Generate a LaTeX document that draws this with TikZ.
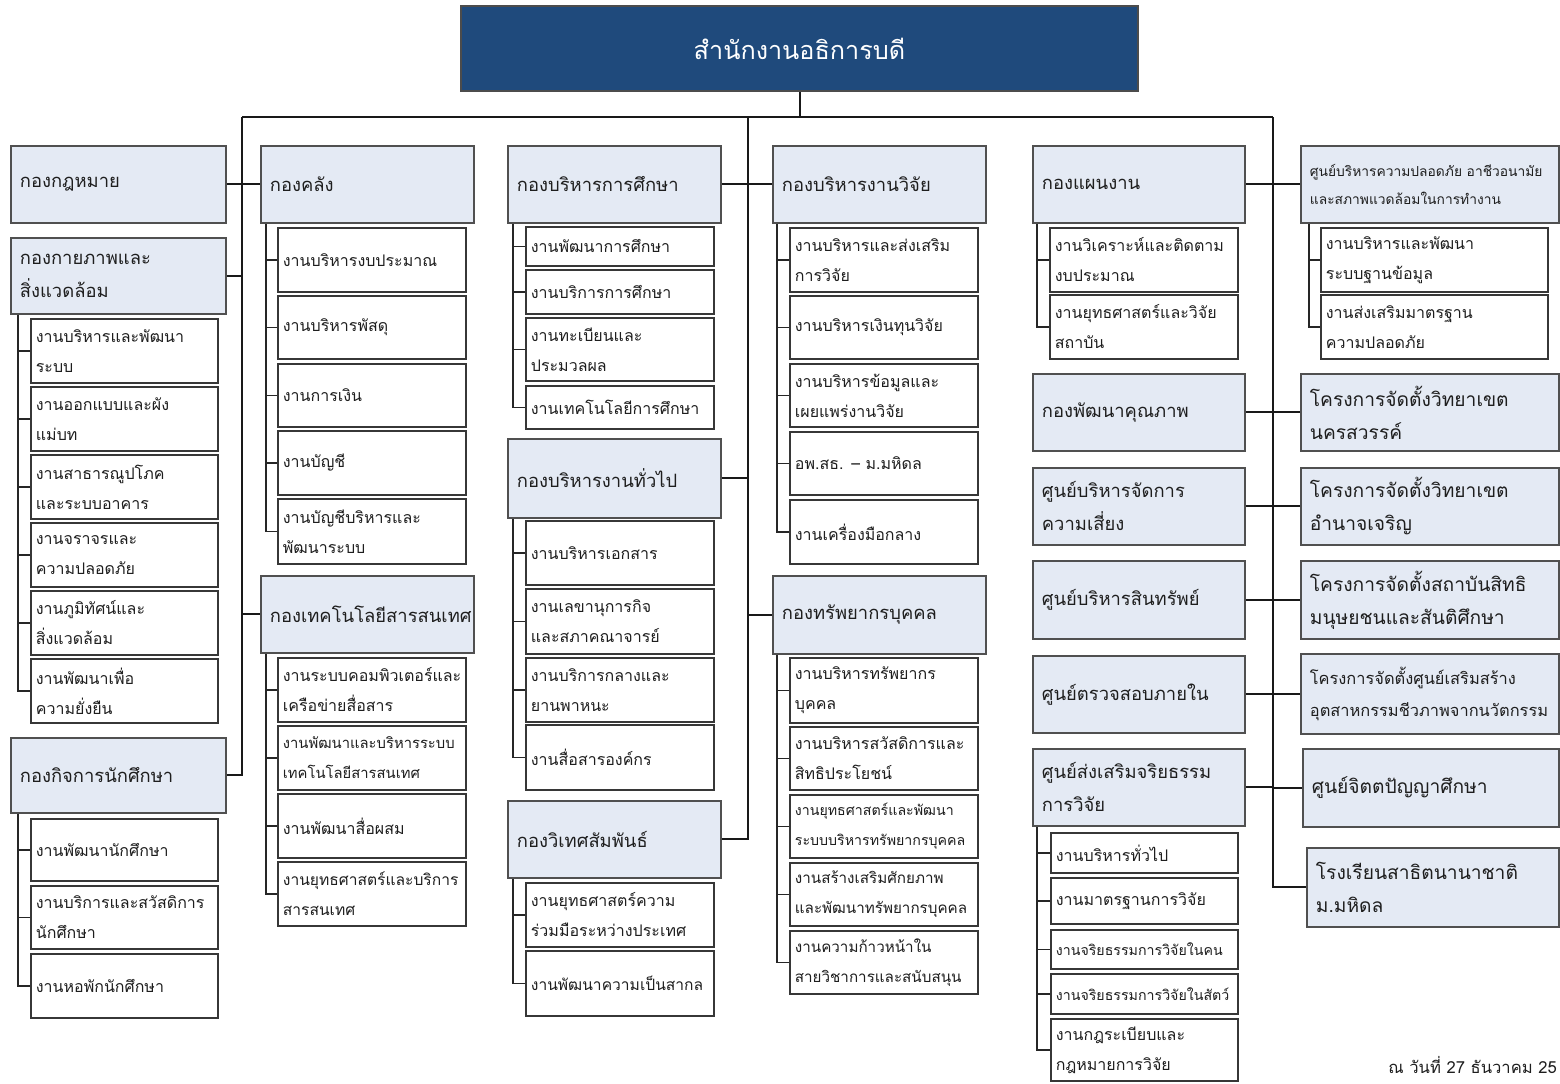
\documentclass[tikz,border=0pt]{standalone}
\usepackage{fontspec}
\setmainfont[Script=Thai]{Loma}
\definecolor{topblue}{RGB}{31,74,124}
\definecolor{divfill}{RGB}{228,234,244}
\definecolor{divborder}{RGB}{80,80,80}
\definecolor{subborder}{RGB}{55,55,55}
\definecolor{textc}{RGB}{30,30,30}
\def\boxpad{4pt}
\newcommand{\orgbox}[7]{%
  \pgfmathsetmacro\obw{(#5-#3)*0.5}%
  \pgfmathsetmacro\obh{(#6-#4)*0.5}%
  \node[#1,minimum width=\obw pt,minimum height=\obh pt,text width={\obw pt-2*\boxpad},anchor=north west] (#2) at (#3,#4) {#7};}
\tikzset{
  boxpad/.code={\def\boxpad{#1}},
  base/.style={rectangle, inner ysep=0pt, inner xsep=\boxpad, align=left, text=textc},
  divbox/.style={boxpad=4.5pt, base, fill=divfill, draw=divborder, line width=0.9pt, font=\fontsize{9.2}{16.5}\selectfont},
  subbox/.style={boxpad=2.5pt, base, fill=white, draw=subborder, line width=0.9pt, font=\fontsize{8}{15}\selectfont},
  topbox/.style={rectangle, fill=topblue, draw=black!70, line width=1pt, text=white, font=\fontsize{12.6}{16}\selectfont},
  tiny7/.style={font=\fontsize{7.1}{15}\selectfont},
  conn/.style={draw=black!90, line width=1pt},
  subconn/.style={draw=black!85, line width=0.8pt},
}
\begin{document}
\begin{tikzpicture}[x=0.5pt,y=-0.5pt]
\useasboundingbox[fill=white] (0,0) rectangle (1560,1083);

% top
\node[topbox, minimum width=338.5pt, minimum height=42.5pt, anchor=north west] (top) at (460,5) {สำนักงานอธิการบดี};

% column 1
\orgbox{divbox}{law}{10}{145}{225}{222}{กองกฎหมาย}
\orgbox{divbox}{phys}{10}{237}{225}{313}{กองกายภาพและ\\สิ่งแวดล้อม}
\orgbox{subbox}{phys1}{30}{318}{217}{382}{งานบริหารและพัฒนา\\ระบบ}
\orgbox{subbox}{phys2}{30}{386}{217}{450}{งานออกแบบและผัง\\แม่บท}
\orgbox{subbox}{phys3}{30}{454}{217}{518}{งานสาธารณูปโภค\\และระบบอาคาร}
\orgbox{subbox}{phys4}{30}{522}{217}{586}{งานจราจรและ\\ความปลอดภัย}
\orgbox{subbox}{phys5}{30}{590}{217}{654}{งานภูมิทัศน์และ\\สิ่งแวดล้อม}
\orgbox{subbox}{phys6}{30}{658}{217}{722}{งานพัฒนาเพื่อ\\ความยั่งยืน}
\orgbox{divbox}{stu}{10}{737}{225}{812}{กองกิจการนักศึกษา}
\orgbox{subbox}{stu1}{30}{818}{217}{880}{งานพัฒนานักศึกษา}
\orgbox{subbox}{stu2}{30}{885}{217}{948}{งานบริการและสวัสดิการ\\นักศึกษา}
\orgbox{subbox}{stu3}{30}{953}{217}{1017}{งานหอพักนักศึกษา}

% column 2
\orgbox{divbox}{fin}{260}{145}{473}{222}{กองคลัง}
\orgbox{subbox}{fin1}{277}{227}{465}{291}{งานบริหารงบประมาณ}
\orgbox{subbox}{fin2}{277}{295}{465}{358}{งานบริหารพัสดุ}
\orgbox{subbox}{fin3}{277}{363}{465}{426}{งานการเงิน}
\orgbox{subbox}{fin4}{277}{430}{465}{494}{งานบัญชี}
\orgbox{subbox}{fin5}{277}{498}{465}{563}{งานบัญชีบริหารและ\\พัฒนาระบบ}
\orgbox{divbox}{it}{260}{575}{473}{652}{กองเทคโนโลยีสารสนเทศ}
\orgbox{subbox}{it1}{277}{657}{465}{721}{งานระบบคอมพิวเตอร์และ\\เครือข่ายสื่อสาร}
\orgbox{subbox,font=\fontsize{7.4}{15}\selectfont}{it2}{277}{725}{465}{789}{งานพัฒนาและบริหารระบบ\\เทคโนโลยีสารสนเทศ}
\orgbox{subbox}{it3}{277}{793}{465}{857}{งานพัฒนาสื่อผสม}
\orgbox{subbox,font=\fontsize{7.8}{15}\selectfont}{it4}{277}{861}{465}{925}{งานยุทธศาสตร์และบริการ\\สารสนเทศ}

% column 3
\orgbox{divbox}{edu}{507}{145}{720}{222}{กองบริหารการศึกษา}
\orgbox{subbox}{edu1}{525}{226}{713}{265}{งานพัฒนาการศึกษา}
\orgbox{subbox}{edu2}{525}{269}{713}{313}{งานบริการการศึกษา}
\orgbox{subbox}{edu3}{525}{317}{713}{380}{งานทะเบียนและ\\ประมวลผล}
\orgbox{subbox}{edu4}{525}{385}{713}{428}{งานเทคโนโลยีการศึกษา}
\orgbox{divbox}{gen}{507}{438}{720}{517}{กองบริหารงานทั่วไป}
\orgbox{subbox}{gen1}{525}{520}{713}{584}{งานบริหารเอกสาร}
\orgbox{subbox}{gen2}{525}{588}{713}{653}{งานเลขานุการกิจ\\และสภาคณาจารย์}
\orgbox{subbox}{gen3}{525}{657}{713}{721}{งานบริการกลางและ\\ยานพาหนะ}
\orgbox{subbox}{gen4}{525}{724}{713}{789}{งานสื่อสารองค์กร}
\orgbox{divbox}{intl}{507}{800}{720}{877}{กองวิเทศสัมพันธ์}
\orgbox{subbox}{intl1}{525}{882}{713}{946}{งานยุทธศาสตร์ความ\\ร่วมมือระหว่างประเทศ}
\orgbox{subbox,font=\fontsize{7.8}{15}\selectfont}{intl2}{525}{950}{713}{1015}{งานพัฒนาความเป็นสากล}

% column 4
\orgbox{divbox}{res}{772}{145}{985}{222}{กองบริหารงานวิจัย}
\orgbox{subbox}{res1}{789}{227}{977}{291}{งานบริหารและส่งเสริม\\การวิจัย}
\orgbox{subbox}{res2}{789}{295}{977}{358}{งานบริหารเงินทุนวิจัย}
\orgbox{subbox}{res3}{789}{363}{977}{426}{งานบริหารข้อมูลและ\\เผยแพร่งานวิจัย}
\orgbox{subbox}{res4}{789}{431}{977}{494}{อพ.สธ. -- ม.มหิดล}
\orgbox{subbox}{res5}{789}{499}{977}{563}{งานเครื่องมือกลาง}
\orgbox{divbox}{hum}{772}{575}{985}{653}{กองทรัพยากรบุคคล}
\orgbox{subbox}{hum1}{789}{657}{977}{722}{งานบริหารทรัพยากร\\บุคคล}
\orgbox{subbox}{hum2}{789}{726}{977}{789}{งานบริหารสวัสดิการและ\\สิทธิประโยชน์}
\orgbox{subbox,tiny7}{hum3}{789}{794}{977}{857}{งานยุทธศาสตร์และพัฒนา\\ระบบบริหารทรัพยากรบุคคล}
\orgbox{subbox,font=\fontsize{7.6}{15}\selectfont}{hum4}{789}{862}{977}{925}{งานสร้างเสริมศักยภาพ\\และพัฒนาทรัพยากรบุคคล}
\orgbox{subbox,font=\fontsize{7.6}{15}\selectfont}{hum5}{789}{930}{977}{993}{งานความก้าวหน้าใน\\สายวิชาการและสนับสนุน}

% column 5
\orgbox{divbox}{plan}{1032}{145}{1244}{222}{กองแผนงาน}
\orgbox{subbox}{plan1}{1049}{227}{1237}{291}{งานวิเคราะห์และติดตาม\\งบประมาณ}
\orgbox{subbox}{plan2}{1049}{294}{1237}{358}{งานยุทธศาสตร์และวิจัย\\สถาบัน}
\orgbox{divbox}{qa}{1032}{373}{1244}{450}{กองพัฒนาคุณภาพ}
\orgbox{divbox}{risk}{1032}{467}{1244}{544}{ศูนย์บริหารจัดการ\\ความเสี่ยง}
\orgbox{divbox}{asset}{1032}{560}{1244}{638}{ศูนย์บริหารสินทรัพย์}
\orgbox{divbox}{audit}{1032}{655}{1244}{732}{ศูนย์ตรวจสอบภายใน}
\orgbox{divbox}{eth}{1032}{748}{1244}{825}{ศูนย์ส่งเสริมจริยธรรม\\การวิจัย}
\orgbox{subbox}{eth1}{1050}{832}{1237}{872}{งานบริหารทั่วไป}
\orgbox{subbox}{eth2}{1050}{877}{1237}{923}{งานมาตรฐานการวิจัย}
\orgbox{subbox,tiny7}{eth3}{1050}{929}{1237}{968}{งานจริยธรรมการวิจัยในคน}
\orgbox{subbox,tiny7}{eth4}{1050}{973}{1237}{1013}{งานจริยธรรมการวิจัยในสัตว์}
\orgbox{subbox}{eth5}{1050}{1018}{1237}{1080}{งานกฎระเบียบและ\\กฎหมายการวิจัย}

% column 6
\orgbox{divbox,font=\fontsize{6.9}{14}\selectfont}{safe}{1300}{145}{1558}{222}{ศูนย์บริหารความปลอดภัย อาชีวอนามัย\\และสภาพแวดล้อมในการทำงาน}
\orgbox{subbox}{safe1}{1320}{227}{1547}{291}{งานบริหารและพัฒนา\\ระบบฐานข้อมูล}
\orgbox{subbox}{safe2}{1320}{294}{1547}{358}{งานส่งเสริมมาตรฐาน\\ความปลอดภัย}
\orgbox{divbox,font=\fontsize{9.6}{16.5}\selectfont}{nsw}{1300}{373}{1558}{450}{โครงการจัดตั้งวิทยาเขต\\นครสวรรค์}
\orgbox{divbox,font=\fontsize{9.6}{16.5}\selectfont}{acr}{1300}{467}{1558}{544}{โครงการจัดตั้งวิทยาเขต\\อำนาจเจริญ}
\orgbox{divbox,font=\fontsize{9.6}{16.5}\selectfont}{peace}{1300}{560}{1558}{638}{โครงการจัดตั้งสถาบันสิทธิ\\มนุษยชนและสันติศึกษา}
\orgbox{divbox,font=\fontsize{8.2}{16}\selectfont}{bio}{1300}{653}{1558}{733}{โครงการจัดตั้งศูนย์เสริมสร้าง\\อุตสาหกรรมชีวภาพจากนวัตกรรม}
\orgbox{divbox,font=\fontsize{9.6}{16.5}\selectfont}{cont}{1302}{748}{1558}{826}{ศูนย์จิตตปัญญาศึกษา}
\orgbox{divbox,font=\fontsize{9.6}{16.5}\selectfont}{demo}{1306}{847}{1558}{926}{โรงเรียนสาธิตนานาชาติ\\ม.มหิดล}

% footer
\node[anchor=west, inner sep=0pt, text=textc, font=\fontsize{8.3}{12}\selectfont] (date) at (1388,1065) {ณ วันที่ 27 ธันวาคม 25};

% main connectors
\coordinate (tl) at (242,117);
\coordinate (tm) at (748,117);
\coordinate (tr) at (1273,117);
\draw[conn] (top.south) -- (top.south |- tl);
\draw[conn] (tl) -- (tr);
\draw[conn] (tl) |- (stu.east);
\draw[conn] (tm) |- (intl.east);
\draw[conn] (tr) |- (demo.west);
\foreach \n in {law,phys} \draw[conn] (\n.east) -- (\n.east -| tl);
\foreach \n in {fin,it} \draw[conn] (\n.west) -- (\n.west -| tl);
\foreach \n in {edu,gen} \draw[conn] (\n.east) -- (\n.east -| tm);
\foreach \n in {res,hum} \draw[conn] (\n.west) -- (\n.west -| tm);
\foreach \n in {plan,qa,risk,asset,audit,eth} \draw[conn] (\n.east) -- (\n.east -| tr);
\foreach \n in {safe,nsw,acr,peace,bio,cont} \draw[conn] (\n.west) -- (\n.west -| tr);

% sub connectors
\path (phys.south west) ++(8,0) coordinate (k1);
\foreach \c in {phys1,phys2,phys3,phys4,phys5} \draw[subconn] (\c.west) -- (\c.west -| k1);
\draw[subconn] (k1) |- (phys6.west);
\path (stu.south west) ++(8,0) coordinate (k2);
\foreach \c in {stu1,stu2} \draw[subconn] (\c.west) -- (\c.west -| k2);
\draw[subconn] (k2) |- (stu3.west);
\path (fin.south west) ++(6,0) coordinate (k3);
\foreach \c in {fin1,fin2,fin3,fin4} \draw[subconn] (\c.west) -- (\c.west -| k3);
\draw[subconn] (k3) |- (fin5.west);
\path (it.south west) ++(6,0) coordinate (k4);
\foreach \c in {it1,it2,it3} \draw[subconn] (\c.west) -- (\c.west -| k4);
\draw[subconn] (k4) |- (it4.west);
\path (edu.south west) ++(6,0) coordinate (k5);
\foreach \c in {edu1,edu2,edu3} \draw[subconn] (\c.west) -- (\c.west -| k5);
\draw[subconn] (k5) |- (edu4.west);
\path (gen.south west) ++(6,0) coordinate (k6);
\foreach \c in {gen1,gen2,gen3} \draw[subconn] (\c.west) -- (\c.west -| k6);
\draw[subconn] (k6) |- (gen4.west);
\path (intl.south west) ++(6,0) coordinate (k7);
\draw[subconn] (intl1.west) -- (intl1.west -| k7);
\draw[subconn] (k7) |- (intl2.west);
\path (res.south west) ++(5,0) coordinate (k8);
\foreach \c in {res1,res2,res3,res4} \draw[subconn] (\c.west) -- (\c.west -| k8);
\draw[subconn] (k8) |- (res5.west);
\path (hum.south west) ++(5,0) coordinate (k9);
\foreach \c in {hum1,hum2,hum3,hum4} \draw[subconn] (\c.west) -- (\c.west -| k9);
\draw[subconn] (k9) |- (hum5.west);
\path (plan.south west) ++(5,0) coordinate (k10);
\draw[subconn] (plan1.west) -- (plan1.west -| k10);
\draw[subconn] (k10) |- (plan2.west);
\path (eth.south west) ++(5,0) coordinate (k11);
\foreach \c in {eth1,eth2,eth3,eth4} \draw[subconn] (\c.west) -- (\c.west -| k11);
\draw[subconn] (k11) |- (eth5.west);
\path (safe.south west) ++(9,0) coordinate (k12);
\draw[subconn] (safe1.west) -- (safe1.west -| k12);
\draw[subconn] (k12) |- (safe2.west);
\end{tikzpicture}
\end{document}
